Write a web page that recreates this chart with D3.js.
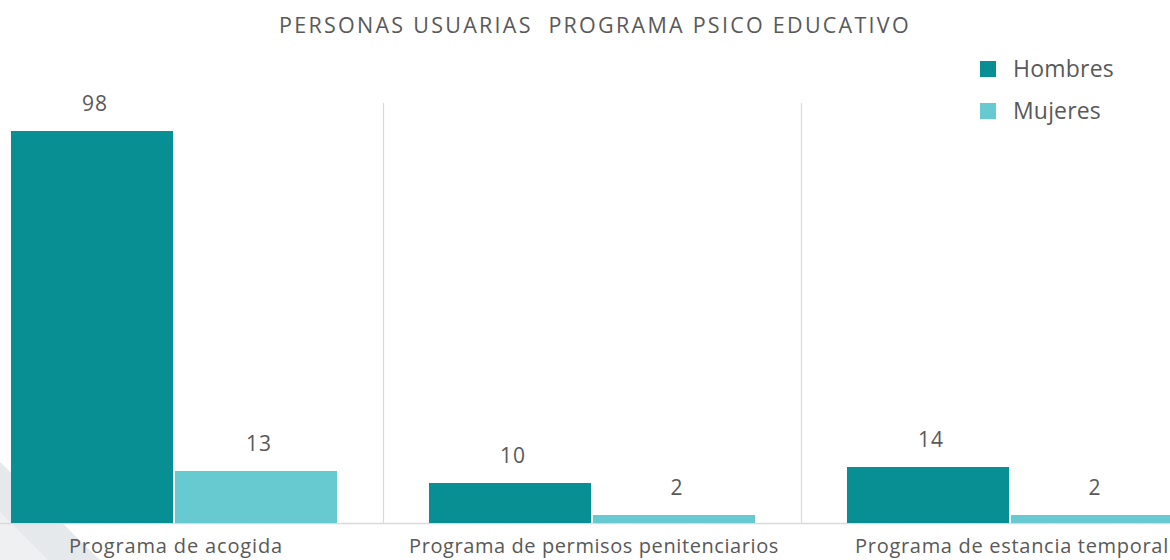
<!DOCTYPE html>
<html>
<head>
<meta charset="utf-8">
<script src="https://cdn.jsdelivr.net/npm/d3@7"></script>
<style>
  html, body { margin: 0; padding: 0; background: #ffffff; }
  svg { display: block; }
  text { font-family: "Open Sans", Lato, sans-serif; fill: #595959; white-space: pre; }
</style>
</head>
<body>
<script>
const categories = ["Programa de acogida", "Programa de permisos penitenciarios", "Programa de estancia temporal"];
const seriesNames = ["Hombres", "Mujeres"];
const hombres = [98, 10, 14];
const mujeres = [13, 2, 2];
const title = "PERSONAS USUARIAS  PROGRAMA PSICO EDUCATIVO";
const colors = ["#078f93", "#68cad1"];

const W = 1170, H = 560;
const svg = d3.select("body").append("svg").attr("width", W).attr("height", H);

// fit text to a target width via letter-spacing
function fit(sel, target) {
  sel.each(function () {
    const n = this.textContent.length;
    const len = this.getComputedTextLength();
    d3.select(this).attr("letter-spacing", ((target - len) / n).toFixed(2));
  });
}

// decorative background corner
svg.append("path").attr("d", "M0,462 L100,560 L0,560 Z").attr("fill", "#e6e9ec");
svg.append("path").attr("d", "M0,512 L48,560 L0,560 Z").attr("fill", "#eef0f2");

const data = categories.map((c, i) => ({ cat: c, values: [hombres[i], mujeres[i]] }));

const x0 = d3.scaleBand().domain(categories).range([-35, 1219]).paddingInner(0.22).paddingOuter(0.11);
const x1 = d3.scaleBand().domain(seriesNames).range([0, x0.bandwidth()]).paddingInner(0.012);
const y = d3.scaleLinear().domain([0, 105]).range([523, 103]);
const color = d3.scaleOrdinal().domain(seriesNames).range(colors);

// separators between categories
const step = x0.step();
categories.slice(1).forEach(c => {
  const sx = Math.round(x0(c) - step * x0.paddingInner() / 2) + 0.5;
  svg.append("line").attr("x1", sx).attr("x2", sx).attr("y1", y(105)).attr("y2", y(0))
    .attr("stroke", "#d9d9d9").attr("stroke-width", 1.2);
});

// baseline
svg.append("line").attr("x1", 0).attr("x2", W).attr("y1", y(0) + 0.5).attr("y2", y(0) + 0.5)
  .attr("stroke", "#d9d9d9").attr("stroke-width", 1.5);

const groups = svg.selectAll("g.grp").data(data).join("g").attr("class", "grp")
  .attr("transform", d => `translate(${x0(d.cat)},0)`);

groups.selectAll("rect").data(d => d.values.map((v, i) => ({ key: seriesNames[i], v })))
  .join("rect")
  .attr("x", d => x1(d.key))
  .attr("y", d => y(d.v))
  .attr("width", x1.bandwidth())
  .attr("height", d => y(0) - y(d.v))
  .attr("fill", d => color(d.key));

groups.selectAll("text.val").data(d => d.values.map((v, i) => ({ key: seriesNames[i], v })))
  .join("text").attr("class", "val")
  .attr("x", d => x1(d.key) + x1.bandwidth() / 2 + 3)
  .attr("y", d => y(d.v) - 20)
  .attr("text-anchor", "middle")
  .attr("font-size", 21)
  .attr("letter-spacing", 1)
  .text(d => d.v);

// category labels
const catTargets = [214, 370, 314];
svg.selectAll("text.cat").data(categories).join("text").attr("class", "cat")
  .attr("x", d => x0(d) + x0.bandwidth() / 2 + 2)
  .attr("y", 553)
  .attr("text-anchor", "middle")
  .attr("font-size", 20)
  .text(d => d)
  .each(function (d, i) { fit(d3.select(this), catTargets[i]); });

// title
svg.append("text").attr("x", 595).attr("y", 32.5).attr("text-anchor", "middle")
  .attr("font-size", 21.5).text(title).call(fit, 632);

// legend
const legTargets = [101, 88];
const leg = svg.selectAll("g.leg").data(seriesNames).join("g").attr("class", "leg")
  .attr("transform", (d, i) => `translate(980,${61 + i * 42})`);
leg.append("rect").attr("width", 16).attr("height", 16).attr("fill", d => color(d));
leg.append("text").attr("x", 33).attr("y", 8).attr("dy", "0.35em").attr("font-size", 23).text(d => d)
  .each(function (d, i) { fit(d3.select(this), legTargets[i]); });
</script>
</body>
</html>
